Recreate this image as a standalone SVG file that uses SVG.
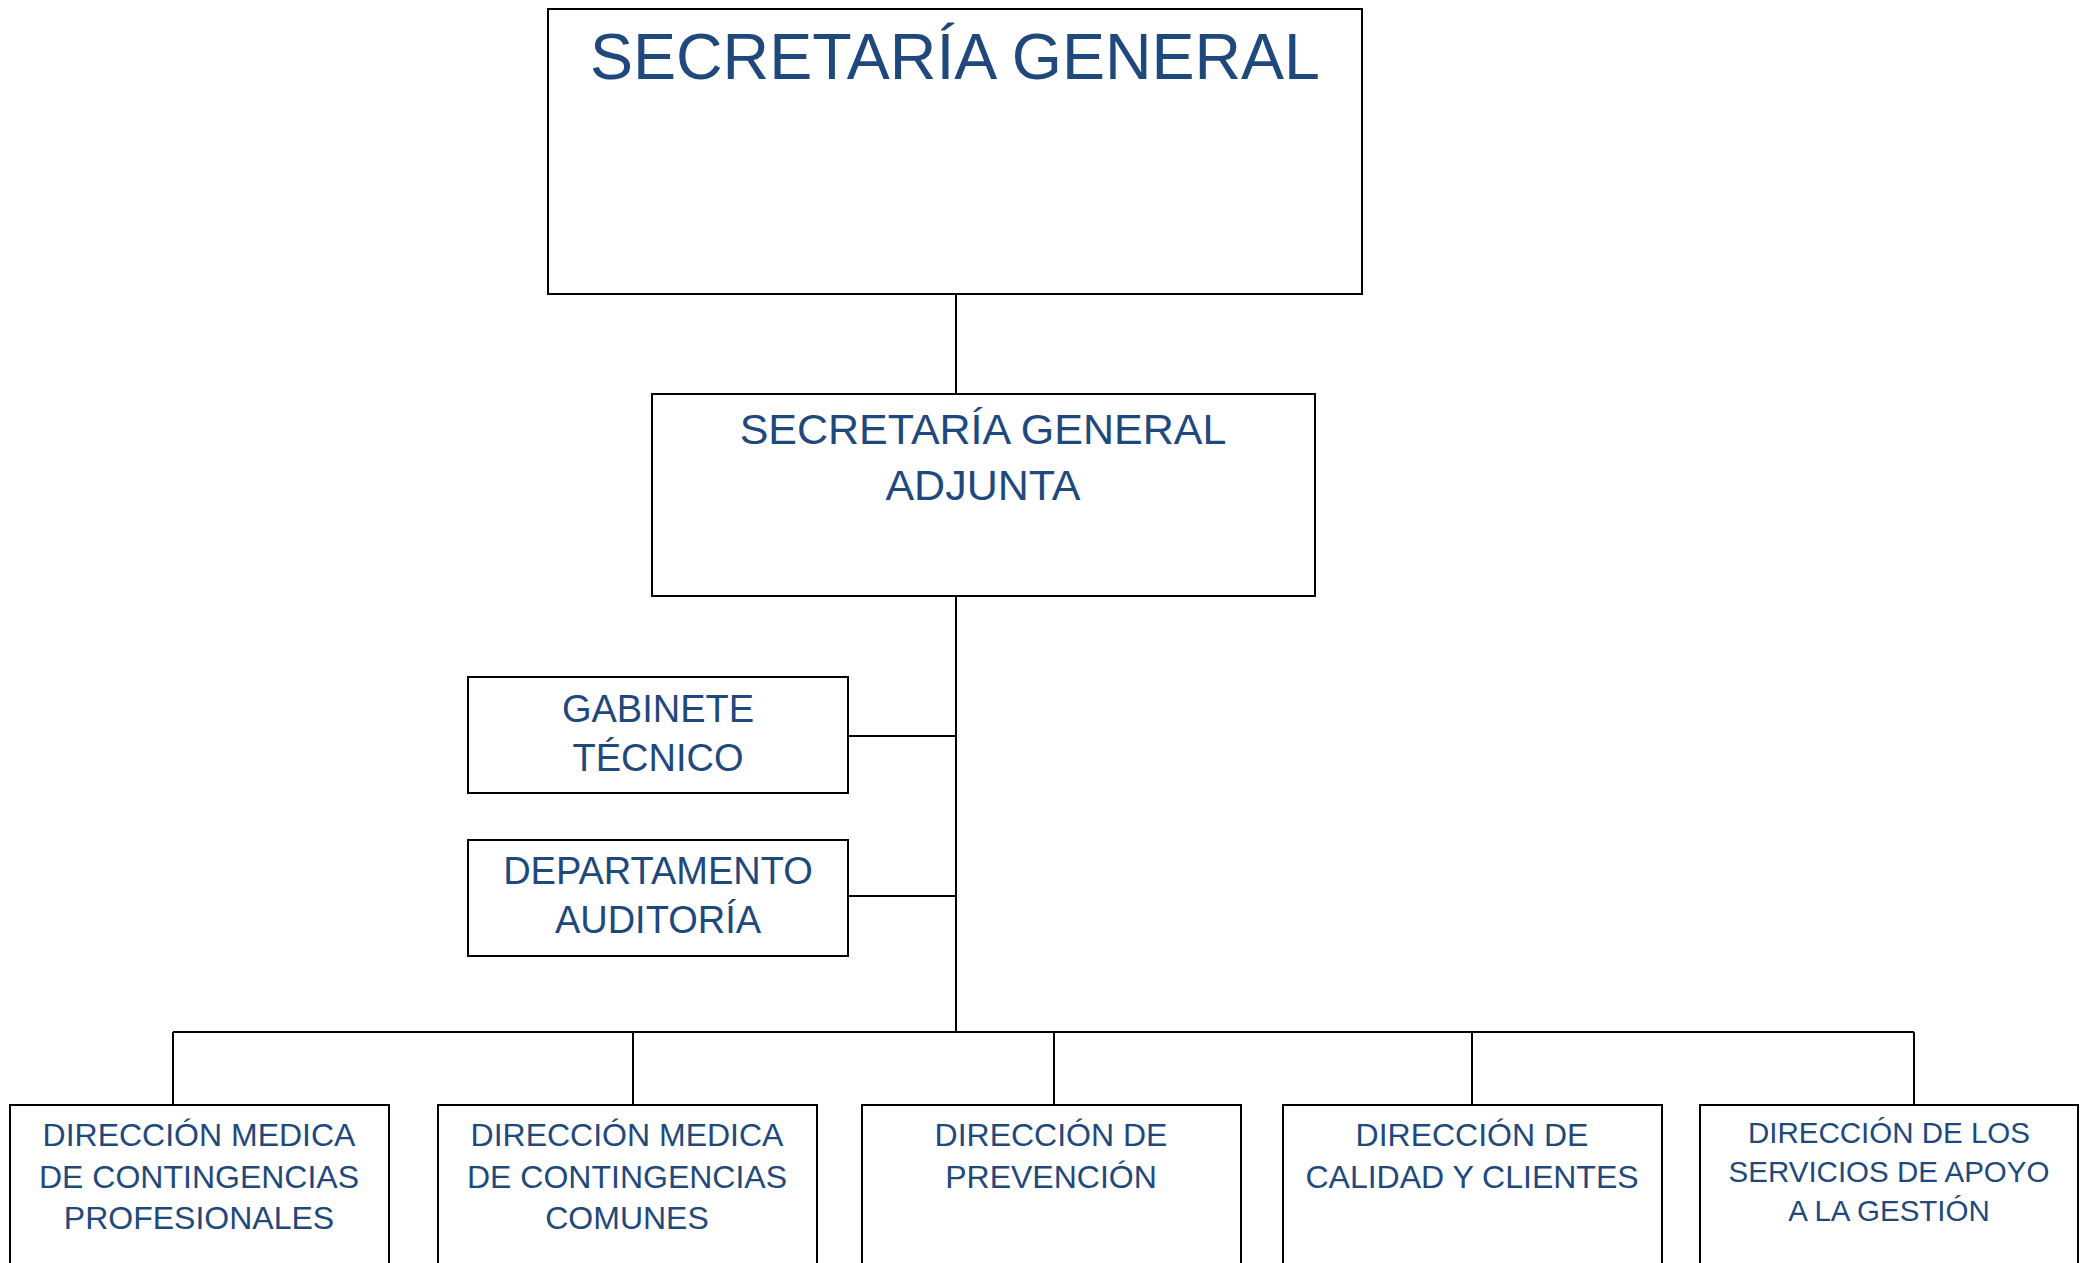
<svg xmlns="http://www.w3.org/2000/svg" width="2085" height="1263" viewBox="0 0 2085 1263">
<style>
.box{fill:#ffffff;stroke:#000000;stroke-width:2}
.ln{fill:none;stroke:#000000;stroke-width:2}
text{font-family:"Liberation Sans",Arial,sans-serif;fill:#1F497D;text-anchor:middle}
.t1{font-size:64.5px}
.t2{font-size:43px}
.t3{font-size:38px}
.t4{font-size:32px}
.t5{font-size:29.5px}
</style>
<rect width="2085" height="1263" fill="#ffffff"/>
<g id="connectors">
<path class="ln" d="M956 294V394"/>
<path class="ln" d="M956 596V1032"/>
<path class="ln" d="M848 736H956"/>
<path class="ln" d="M848 896H956"/>
<path class="ln" d="M173 1032H1914"/>
<path class="ln" d="M173 1032V1105M633 1032V1105M1054 1032V1105M1472 1032V1105M1914 1032V1105"/>
</g>
<g id="secretaria-general">
<rect class="box" x="548" y="9" width="814" height="285"/>
<text class="t1" x="955" y="79">SECRETARÍA GENERAL</text>
</g>
<g id="secretaria-general-adjunta">
<rect class="box" x="652" y="394" width="663" height="202"/>
<text class="t2" x="983" y="444">SECRETARÍA GENERAL</text>
<text class="t2" x="983" y="500">ADJUNTA</text>
</g>
<g id="gabinete-tecnico">
<rect class="box" x="468" y="677" width="380" height="116"/>
<text class="t3" x="658" y="722">GABINETE</text>
<text class="t3" x="658" y="771">TÉCNICO</text>
</g>
<g id="departamento-auditoria">
<rect class="box" x="468" y="840" width="380" height="116"/>
<text class="t3" x="658" y="884">DEPARTAMENTO</text>
<text class="t3" x="658" y="933">AUDITORÍA</text>
</g>
<g id="dir-cont-profesionales">
<rect class="box" x="10" y="1105" width="379" height="170"/>
<text class="t4" x="199" y="1146">DIRECCIÓN MEDICA</text>
<text class="t4" x="199" y="1188">DE CONTINGENCIAS</text>
<text class="t4" x="199" y="1229">PROFESIONALES</text>
</g>
<g id="dir-cont-comunes">
<rect class="box" x="438" y="1105" width="379" height="170"/>
<text class="t4" x="627" y="1146">DIRECCIÓN MEDICA</text>
<text class="t4" x="627" y="1188">DE CONTINGENCIAS</text>
<text class="t4" x="627" y="1229">COMUNES</text>
</g>
<g id="dir-prevencion">
<rect class="box" x="862" y="1105" width="379" height="170"/>
<text class="t4" x="1051" y="1146">DIRECCIÓN DE</text>
<text class="t4" x="1051" y="1188">PREVENCIÓN</text>
</g>
<g id="dir-calidad">
<rect class="box" x="1283" y="1105" width="379" height="170"/>
<text class="t4" x="1472" y="1146">DIRECCIÓN DE</text>
<text class="t4" x="1472" y="1188">CALIDAD Y CLIENTES</text>
</g>
<g id="dir-servicios-apoyo">
<rect class="box" x="1700" y="1105" width="378" height="170"/>
<text class="t5" x="1889" y="1143">DIRECCIÓN DE LOS</text>
<text class="t5" x="1889" y="1182">SERVICIOS DE APOYO</text>
<text class="t5" x="1889" y="1221">A LA GESTIÓN</text>
</g>
</svg>
